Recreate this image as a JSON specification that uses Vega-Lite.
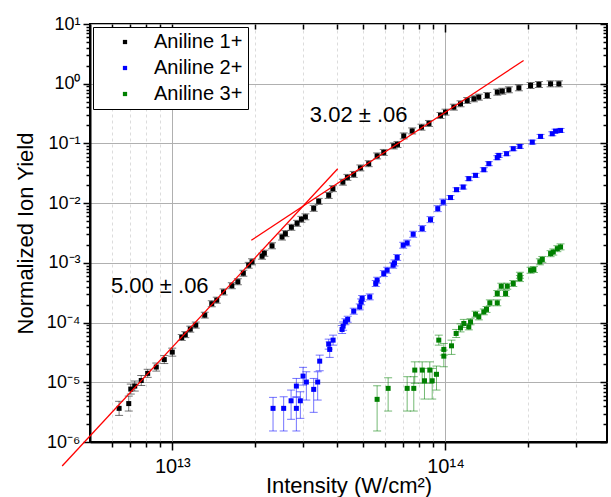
{
  "$schema": "https://vega.github.io/schema/vega-lite/v6.json",
  "width": 517,
  "height": 418,
  "autosize": {"type": "none"},
  "padding": {"left": 90, "top": 24, "right": 4, "bottom": 55},
  "config": {
    "font": "Liberation Sans",
    "view": {"stroke": "black", "strokeWidth": 2},
    "axis": {"labelColor": "black", "titleColor": "black", "labelFont": "Liberation Sans", "titleFont": "Liberation Sans"}
  },
  "datasets": {
    "pts": [
      {"s": "Aniline 1+", "x": 6.39e12, "y": 3.66e-6, "lo": 2.79e-6, "hi": 4.80e-6},
      {"s": "Aniline 1+", "x": 6.93e12, "y": 4.40e-6, "lo": 3.30e-6, "hi": 5.87e-6},
      {"s": "Aniline 1+", "x": 7.05e12, "y": 7.70e-6, "lo": 6.35e-6, "hi": 9.33e-6},
      {"s": "Aniline 1+", "x": 7.29e12, "y": 8.64e-6, "lo": 7.13e-6, "hi": 1.05e-5},
      {"s": "Aniline 1+", "x": 7.70e12, "y": 1.07e-5, "lo": 8.83e-6, "hi": 1.30e-5},
      {"s": "Aniline 1+", "x": 8.13e12, "y": 1.41e-5, "lo": 1.21e-5, "hi": 1.65e-5},
      {"s": "Aniline 1+", "x": 8.74e12, "y": 1.80e-5, "lo": 1.54e-5, "hi": 2.10e-5},
      {"s": "Aniline 1+", "x": 9.35e12, "y": 2.40e-5, "lo": 2.06e-5, "hi": 2.80e-5},
      {"s": "Aniline 1+", "x": 1.00e13, "y": 3.20e-5, "lo": 2.74e-5, "hi": 3.73e-5},
      {"s": "Aniline 1+", "x": 1.083e13, "y": 5.63e-5, "lo": 5.02e-5, "hi": 6.32e-5},
      {"s": "Aniline 1+", "x": 1.116e13, "y": 6.28e-5, "lo": 5.60e-5, "hi": 7.05e-5},
      {"s": "Aniline 1+", "x": 1.164e13, "y": 7.76e-5, "lo": 6.91e-5, "hi": 8.71e-5},
      {"s": "Aniline 1+", "x": 1.219e13, "y": 9.05e-5, "lo": 8.06e-5, "hi": 1.02e-4},
      {"s": "Aniline 1+", "x": 1.315e13, "y": 1.33e-4, "lo": 1.19e-4, "hi": 1.49e-4},
      {"s": "Aniline 1+", "x": 1.395e13, "y": 2.07e-4, "lo": 1.84e-4, "hi": 2.32e-4},
      {"s": "Aniline 1+", "x": 1.455e13, "y": 2.37e-4, "lo": 2.11e-4, "hi": 2.66e-4},
      {"s": "Aniline 1+", "x": 1.541e13, "y": 3.26e-4, "lo": 2.90e-4, "hi": 3.66e-4},
      {"s": "Aniline 1+", "x": 1.652e13, "y": 4.14e-4, "lo": 3.69e-4, "hi": 4.65e-4},
      {"s": "Aniline 1+", "x": 1.738e13, "y": 4.83e-4, "lo": 4.30e-4, "hi": 5.42e-4},
      {"s": "Aniline 1+", "x": 1.820e13, "y": 6.70e-4, "lo": 5.97e-4, "hi": 7.52e-4},
      {"s": "Aniline 1+", "x": 1.904e13, "y": 9.12e-4, "lo": 8.13e-4, "hi": 1.02e-3},
      {"s": "Aniline 1+", "x": 1.959e13, "y": 1.04e-3, "lo": 9.27e-4, "hi": 1.17e-3},
      {"s": "Aniline 1+", "x": 2.131e13, "y": 1.29e-3, "lo": 1.15e-3, "hi": 1.45e-3},
      {"s": "Aniline 1+", "x": 2.173e13, "y": 1.45e-3, "lo": 1.29e-3, "hi": 1.63e-3},
      {"s": "Aniline 1+", "x": 2.318e13, "y": 1.93e-3, "lo": 1.72e-3, "hi": 2.17e-3},
      {"s": "Aniline 1+", "x": 2.522e13, "y": 2.71e-3, "lo": 2.41e-3, "hi": 3.04e-3},
      {"s": "Aniline 1+", "x": 2.594e13, "y": 3.09e-3, "lo": 2.75e-3, "hi": 3.47e-3},
      {"s": "Aniline 1+", "x": 2.729e13, "y": 3.94e-3, "lo": 3.51e-3, "hi": 4.42e-3},
      {"s": "Aniline 1+", "x": 2.863e13, "y": 4.59e-3, "lo": 4.09e-3, "hi": 5.15e-3},
      {"s": "Aniline 1+", "x": 2.969e13, "y": 5.36e-3, "lo": 4.78e-3, "hi": 6.01e-3},
      {"s": "Aniline 1+", "x": 3.071e13, "y": 5.90e-3, "lo": 5.26e-3, "hi": 6.62e-3},
      {"s": "Aniline 1+", "x": 3.293e13, "y": 8.18e-3, "lo": 7.29e-3, "hi": 9.18e-3},
      {"s": "Aniline 1+", "x": 3.435e13, "y": 1.07e-2, "lo": 9.53e-3, "hi": 1.20e-2},
      {"s": "Aniline 1+", "x": 3.737e13, "y": 1.35e-2, "lo": 1.20e-2, "hi": 1.51e-2},
      {"s": "Aniline 1+", "x": 3.872e13, "y": 1.75e-2, "lo": 1.56e-2, "hi": 1.96e-2},
      {"s": "Aniline 1+", "x": 4.212e13, "y": 2.25e-2, "lo": 2.00e-2, "hi": 2.52e-2},
      {"s": "Aniline 1+", "x": 4.375e13, "y": 2.70e-2, "lo": 2.41e-2, "hi": 3.03e-2},
      {"s": "Aniline 1+", "x": 4.614e13, "y": 3.03e-2, "lo": 2.70e-2, "hi": 3.40e-2},
      {"s": "Aniline 1+", "x": 4.882e13, "y": 3.89e-2, "lo": 3.47e-2, "hi": 4.36e-2},
      {"s": "Aniline 1+", "x": 5.236e13, "y": 4.58e-2, "lo": 4.08e-2, "hi": 5.14e-2},
      {"s": "Aniline 1+", "x": 5.620e13, "y": 6.18e-2, "lo": 5.51e-2, "hi": 6.93e-2},
      {"s": "Aniline 1+", "x": 5.943e13, "y": 7.07e-2, "lo": 6.30e-2, "hi": 7.93e-2},
      {"s": "Aniline 1+", "x": 6.466e13, "y": 9.08e-2, "lo": 8.09e-2, "hi": 0.1019},
      {"s": "Aniline 1+", "x": 6.672e13, "y": 9.62e-2, "lo": 8.57e-2, "hi": 0.1079},
      {"s": "Aniline 1+", "x": 7.034e13, "y": 0.1335, "lo": 0.119, "hi": 0.1498},
      {"s": "Aniline 1+", "x": 7.551e13, "y": 0.162, "lo": 0.1443, "hi": 0.1818},
      {"s": "Aniline 1+", "x": 8.167e13, "y": 0.187, "lo": 0.1666, "hi": 0.2098},
      {"s": "Aniline 1+", "x": 8.70e13, "y": 0.216, "lo": 0.1925, "hi": 0.2424},
      {"s": "Aniline 1+", "x": 9.59e13, "y": 0.294, "lo": 0.262, "hi": 0.330},
      {"s": "Aniline 1+", "x": 1.00e14, "y": 0.334, "lo": 0.2976, "hi": 0.3747},
      {"s": "Aniline 1+", "x": 1.073e14, "y": 0.405, "lo": 0.361, "hi": 0.454},
      {"s": "Aniline 1+", "x": 1.135e14, "y": 0.461, "lo": 0.411, "hi": 0.517},
      {"s": "Aniline 1+", "x": 1.201e14, "y": 0.524, "lo": 0.467, "hi": 0.588},
      {"s": "Aniline 1+", "x": 1.270e14, "y": 0.559, "lo": 0.498, "hi": 0.627},
      {"s": "Aniline 1+", "x": 1.324e14, "y": 0.595, "lo": 0.530, "hi": 0.668},
      {"s": "Aniline 1+", "x": 1.422e14, "y": 0.635, "lo": 0.566, "hi": 0.712},
      {"s": "Aniline 1+", "x": 1.547e14, "y": 0.721, "lo": 0.642, "hi": 0.809},
      {"s": "Aniline 1+", "x": 1.614e14, "y": 0.749, "lo": 0.667, "hi": 0.840},
      {"s": "Aniline 1+", "x": 1.706e14, "y": 0.791, "lo": 0.705, "hi": 0.887},
      {"s": "Aniline 1+", "x": 1.856e14, "y": 0.854, "lo": 0.761, "hi": 0.958},
      {"s": "Aniline 1+", "x": 2.048e14, "y": 0.933, "lo": 0.831, "hi": 1.047},
      {"s": "Aniline 1+", "x": 2.197e14, "y": 0.970, "lo": 0.864, "hi": 1.088},
      {"s": "Aniline 1+", "x": 2.424e14, "y": 0.996, "lo": 0.887, "hi": 1.117},
      {"s": "Aniline 1+", "x": 2.600e14, "y": 0.996, "lo": 0.887, "hi": 1.117},
      {"s": "Aniline 2+", "x": 2.338e13, "y": 3.66e-6, "lo": 1.53e-6, "hi": 5.59e-6},
      {"s": "Aniline 2+", "x": 2.557e13, "y": 3.66e-6, "lo": 1.53e-6, "hi": 5.72e-6},
      {"s": "Aniline 2+", "x": 2.722e13, "y": 4.90e-6, "lo": 2.40e-6, "hi": 7.41e-6},
      {"s": "Aniline 2+", "x": 2.846e13, "y": 3.66e-6, "lo": 1.53e-6, "hi": 5.59e-6},
      {"s": "Aniline 2+", "x": 2.846e13, "y": 8.64e-6, "lo": 5.72e-6, "hi": 1.16e-5},
      {"s": "Aniline 2+", "x": 2.943e13, "y": 4.90e-6, "lo": 2.49e-6, "hi": 6.94e-6},
      {"s": "Aniline 2+", "x": 3.011e13, "y": 1.27e-5, "lo": 8.98e-6, "hi": 1.78e-5},
      {"s": "Aniline 2+", "x": 3.096e13, "y": 1.01e-5, "lo": 5.04e-6, "hi": 1.50e-5},
      {"s": "Aniline 2+", "x": 3.293e13, "y": 7.61e-6, "lo": 3.14e-6, "hi": 1.16e-5},
      {"s": "Aniline 2+", "x": 3.406e13, "y": 1.01e-5, "lo": 5.04e-6, "hi": 1.50e-5},
      {"s": "Aniline 2+", "x": 3.464e13, "y": 2.26e-5, "lo": 1.56e-5, "hi": 2.85e-5},
      {"s": "Aniline 2+", "x": 3.737e13, "y": 4.35e-5, "lo": 3.59e-5, "hi": 5.28e-5},
      {"s": "Aniline 2+", "x": 3.769e13, "y": 3.55e-5, "lo": 2.61e-5, "hi": 4.76e-5},
      {"s": "Aniline 2+", "x": 3.878e13, "y": 5.08e-5, "lo": 4.19e-5, "hi": 6.16e-5},
      {"s": "Aniline 2+", "x": 4.184e13, "y": 7.67e-5, "lo": 6.57e-5, "hi": 8.95e-5},
      {"s": "Aniline 2+", "x": 4.220e13, "y": 8.71e-5, "lo": 7.46e-5, "hi": 1.02e-4},
      {"s": "Aniline 2+", "x": 4.302e13, "y": 1.03e-4, "lo": 9.18e-5, "hi": 1.16e-4},
      {"s": "Aniline 2+", "x": 4.386e13, "y": 1.13e-4, "lo": 1.01e-4, "hi": 1.27e-4},
      {"s": "Aniline 2+", "x": 4.614e13, "y": 1.55e-4, "lo": 1.38e-4, "hi": 1.74e-4},
      {"s": "Aniline 2+", "x": 4.854e13, "y": 1.83e-4, "lo": 1.63e-4, "hi": 2.05e-4},
      {"s": "Aniline 2+", "x": 4.912e13, "y": 2.22e-4, "lo": 1.98e-4, "hi": 2.49e-4},
      {"s": "Aniline 2+", "x": 4.954e13, "y": 2.53e-4, "lo": 2.25e-4, "hi": 2.84e-4},
      {"s": "Aniline 2+", "x": 5.281e13, "y": 2.69e-4, "lo": 2.40e-4, "hi": 3.02e-4},
      {"s": "Aniline 2+", "x": 5.555e13, "y": 4.51e-4, "lo": 4.02e-4, "hi": 5.06e-4},
      {"s": "Aniline 2+", "x": 5.620e13, "y": 5.12e-4, "lo": 4.56e-4, "hi": 5.74e-4},
      {"s": "Aniline 2+", "x": 5.943e13, "y": 6.62e-4, "lo": 5.90e-4, "hi": 7.43e-4},
      {"s": "Aniline 2+", "x": 6.115e13, "y": 7.52e-4, "lo": 6.70e-4, "hi": 8.44e-4},
      {"s": "Aniline 2+", "x": 6.433e13, "y": 9.12e-4, "lo": 8.13e-4, "hi": 1.02e-3},
      {"s": "Aniline 2+", "x": 6.505e13, "y": 9.96e-4, "lo": 8.87e-4, "hi": 1.12e-3},
      {"s": "Aniline 2+", "x": 6.655e13, "y": 1.23e-3, "lo": 1.10e-3, "hi": 1.38e-3},
      {"s": "Aniline 2+", "x": 7.000e13, "y": 1.97e-3, "lo": 1.76e-3, "hi": 2.21e-3},
      {"s": "Aniline 2+", "x": 7.240e13, "y": 2.15e-3, "lo": 1.92e-3, "hi": 2.41e-3},
      {"s": "Aniline 2+", "x": 7.616e13, "y": 3.01e-3, "lo": 2.68e-3, "hi": 3.38e-3},
      {"s": "Aniline 2+", "x": 8.217e13, "y": 3.75e-3, "lo": 3.34e-3, "hi": 4.21e-3},
      {"s": "Aniline 2+", "x": 8.814e13, "y": 5.30e-3, "lo": 4.72e-3, "hi": 5.95e-3},
      {"s": "Aniline 2+", "x": 9.37e13, "y": 8.09e-3, "lo": 7.21e-3, "hi": 9.08e-3},
      {"s": "Aniline 2+", "x": 9.81e13, "y": 1.04e-2, "lo": 9.27e-3, "hi": 1.17e-2},
      {"s": "Aniline 2+", "x": 1.043e14, "y": 1.24e-2, "lo": 1.15e-2, "hi": 1.34e-2},
      {"s": "Aniline 2+", "x": 1.097e14, "y": 1.68e-2, "lo": 1.56e-2, "hi": 1.81e-2},
      {"s": "Aniline 2+", "x": 1.161e14, "y": 1.86e-2, "lo": 1.72e-2, "hi": 2.01e-2},
      {"s": "Aniline 2+", "x": 1.217e14, "y": 2.57e-2, "lo": 2.38e-2, "hi": 2.78e-2},
      {"s": "Aniline 2+", "x": 1.288e14, "y": 2.92e-2, "lo": 2.70e-2, "hi": 3.15e-2},
      {"s": "Aniline 2+", "x": 1.381e14, "y": 3.63e-2, "lo": 3.36e-2, "hi": 3.92e-2},
      {"s": "Aniline 2+", "x": 1.441e14, "y": 4.58e-2, "lo": 4.24e-2, "hi": 4.95e-2},
      {"s": "Aniline 2+", "x": 1.547e14, "y": 5.77e-2, "lo": 5.34e-2, "hi": 6.23e-2},
      {"s": "Aniline 2+", "x": 1.567e14, "y": 6.30e-2, "lo": 5.83e-2, "hi": 6.80e-2},
      {"s": "Aniline 2+", "x": 1.673e14, "y": 6.73e-2, "lo": 6.23e-2, "hi": 7.27e-2},
      {"s": "Aniline 2+", "x": 1.770e14, "y": 8.15e-2, "lo": 7.55e-2, "hi": 8.80e-2},
      {"s": "Aniline 2+", "x": 1.872e14, "y": 8.91e-2, "lo": 8.25e-2, "hi": 9.62e-2},
      {"s": "Aniline 2+", "x": 2.078e14, "y": 0.1051, "lo": 0.0973, "hi": 0.1135},
      {"s": "Aniline 2+", "x": 2.228e14, "y": 0.1310, "lo": 0.1213, "hi": 0.1415},
      {"s": "Aniline 2+", "x": 2.459e14, "y": 0.1453, "lo": 0.1345, "hi": 0.1569},
      {"s": "Aniline 2+", "x": 2.528e14, "y": 0.1606, "lo": 0.1487, "hi": 0.1734},
      {"s": "Aniline 2+", "x": 2.637e14, "y": 0.1650, "lo": 0.1528, "hi": 0.1782},
      {"s": "Aniline 3+", "x": 5.620e13, "y": 5.18e-6, "lo": 1.53e-6, "hi": 8.74e-6},
      {"s": "Aniline 3+", "x": 6.167e13, "y": 7.91e-6, "lo": 3.30e-6, "hi": 1.19e-5},
      {"s": "Aniline 3+", "x": 7.240e13, "y": 7.91e-6, "lo": 3.30e-6, "hi": 1.24e-5},
      {"s": "Aniline 3+", "x": 7.655e13, "y": 7.91e-6, "lo": 3.30e-6, "hi": 1.24e-5},
      {"s": "Aniline 3+", "x": 7.719e13, "y": 1.60e-5, "lo": 9.59e-6, "hi": 2.20e-5},
      {"s": "Aniline 3+", "x": 8.217e13, "y": 1.60e-5, "lo": 9.59e-6, "hi": 2.20e-5},
      {"s": "Aniline 3+", "x": 8.377e13, "y": 1.06e-5, "lo": 5.24e-6, "hi": 1.71e-5},
      {"s": "Aniline 3+", "x": 8.761e13, "y": 1.60e-5, "lo": 9.59e-6, "hi": 2.20e-5},
      {"s": "Aniline 3+", "x": 8.94e13, "y": 1.06e-5, "lo": 5.24e-6, "hi": 1.71e-5},
      {"s": "Aniline 3+", "x": 9.27e13, "y": 1.36e-5, "lo": 7.41e-6, "hi": 1.87e-5},
      {"s": "Aniline 3+", "x": 9.45e13, "y": 5.08e-5, "lo": 4.19e-5, "hi": 6.16e-5},
      {"s": "Aniline 3+", "x": 9.86e13, "y": 3.55e-5, "lo": 2.85e-5, "hi": 4.47e-5},
      {"s": "Aniline 3+", "x": 9.86e13, "y": 2.74e-5, "lo": 1.82e-5, "hi": 3.46e-5},
      {"s": "Aniline 3+", "x": 1.052e14, "y": 4.08e-5, "lo": 2.93e-5, "hi": 5.08e-5},
      {"s": "Aniline 3+", "x": 1.094e14, "y": 6.57e-5, "lo": 5.63e-5, "hi": 7.67e-5},
      {"s": "Aniline 3+", "x": 1.135e14, "y": 8.15e-5, "lo": 6.98e-5, "hi": 9.50e-5},
      {"s": "Aniline 3+", "x": 1.167e14, "y": 9.66e-5, "lo": 8.28e-5, "hi": 1.13e-4},
      {"s": "Aniline 3+", "x": 1.217e14, "y": 8.47e-5, "lo": 7.55e-5, "hi": 9.50e-5},
      {"s": "Aniline 3+", "x": 1.235e14, "y": 1.03e-4, "lo": 9.18e-5, "hi": 1.16e-4},
      {"s": "Aniline 3+", "x": 1.288e14, "y": 1.38e-4, "lo": 1.23e-4, "hi": 1.55e-4},
      {"s": "Aniline 3+", "x": 1.324e14, "y": 1.25e-4, "lo": 1.11e-4, "hi": 1.40e-4},
      {"s": "Aniline 3+", "x": 1.381e14, "y": 1.51e-4, "lo": 1.35e-4, "hi": 1.69e-4},
      {"s": "Aniline 3+", "x": 1.413e14, "y": 1.66e-4, "lo": 1.48e-4, "hi": 1.86e-4},
      {"s": "Aniline 3+", "x": 1.453e14, "y": 2.14e-4, "lo": 1.91e-4, "hi": 2.40e-4},
      {"s": "Aniline 3+", "x": 1.547e14, "y": 2.14e-4, "lo": 1.91e-4, "hi": 2.40e-4},
      {"s": "Aniline 3+", "x": 1.547e14, "y": 3.07e-4, "lo": 2.74e-4, "hi": 3.44e-4},
      {"s": "Aniline 3+", "x": 1.600e14, "y": 4.06e-4, "lo": 3.62e-4, "hi": 4.56e-4},
      {"s": "Aniline 3+", "x": 1.659e14, "y": 3.07e-4, "lo": 2.74e-4, "hi": 3.44e-4},
      {"s": "Aniline 3+", "x": 1.683e14, "y": 4.06e-4, "lo": 3.62e-4, "hi": 4.56e-4},
      {"s": "Aniline 3+", "x": 1.770e14, "y": 4.51e-4, "lo": 4.02e-4, "hi": 5.06e-4},
      {"s": "Aniline 3+", "x": 1.872e14, "y": 5.46e-4, "lo": 4.86e-4, "hi": 6.13e-4},
      {"s": "Aniline 3+", "x": 1.872e14, "y": 6.20e-4, "lo": 5.52e-4, "hi": 6.96e-4},
      {"s": "Aniline 3+", "x": 2.048e14, "y": 7.52e-4, "lo": 6.70e-4, "hi": 8.44e-4},
      {"s": "Aniline 3+", "x": 2.106e14, "y": 7.73e-4, "lo": 6.89e-4, "hi": 8.67e-4},
      {"s": "Aniline 3+", "x": 2.215e14, "y": 1.04e-3, "lo": 9.27e-4, "hi": 1.17e-3},
      {"s": "Aniline 3+", "x": 2.261e14, "y": 1.14e-3, "lo": 1.02e-3, "hi": 1.28e-3},
      {"s": "Aniline 3+", "x": 2.424e14, "y": 1.43e-3, "lo": 1.27e-3, "hi": 1.60e-3},
      {"s": "Aniline 3+", "x": 2.480e14, "y": 1.52e-3, "lo": 1.35e-3, "hi": 1.71e-3},
      {"s": "Aniline 3+", "x": 2.566e14, "y": 1.73e-3, "lo": 1.54e-3, "hi": 1.94e-3},
      {"s": "Aniline 3+", "x": 2.637e14, "y": 1.85e-3, "lo": 1.65e-3, "hi": 2.08e-3}
    ],
    "fit": [
      {"id": "slope5", "x": 3.955e12, "y": 3.97e-7},
      {"id": "slope5", "x": 4.032e13, "y": 3.776e-2},
      {"id": "slope3", "x": 1.947e13, "y": 2.387e-3},
      {"id": "slope3", "x": 1.931e14, "y": 2.443}
    ],
    "notes": [
      {"t": "5.00 ± .06", "x": 9.0e12, "y": 3.07e-4},
      {"t": "3.02 ± .06", "x": 4.81e13, "y": 0.227}
    ]
  },
  "layer": [
    {
      "data": {"name": "pts"},
      "mark": {"type": "rule", "strokeWidth": 1, "opacity": 0.55},
      "encoding": {
        "x": {
          "field": "x", "type": "quantitative",
          "scale": {"type": "log", "domain": [5e12, 3.9e14]},
          "axis": {
            "orient": "bottom",
            "values": [6e12, 7e12, 8e12, 9e12, 1e13, 2e13, 3e13, 4e13, 5e13, 6e13, 7e13, 8e13, 9e13, 1e14, 2e14, 3e14],
            "labelExpr": "datum.value == 1e13 ? '10¹³' : (datum.value == 1e14 ? '10¹⁴' : '')",
            "labelFontSize": 20,
            "labelBaseline": "alphabetic",
            "labelPadding": 22,
            "labelOverlap": false,
            "labelFlush": false,
            "tickSize": {"condition": {"test": "datum.value == 1e13 || datum.value == 1e14", "value": 8}, "value": 5},
            "tickColor": "black",
            "tickWidth": 1.5,
            "grid": true,
            "gridColor": {"condition": {"test": "datum.value == 1e13 || datum.value == 1e14", "value": "#b0b0b0"}, "value": "#dcdcdc"},
            "gridDash": {"condition": {"test": "datum.value == 1e13 || datum.value == 1e14", "value": []}, "value": [3, 3]},
            "gridWidth": 1,
            "domainColor": "black",
            "domainWidth": 2,
            "title": "Intensity (W/cm²)",
            "titleFontSize": 22,
            "titleFontWeight": "normal",
            "titleBaseline": "alphabetic",
            "titleY": 50
          }
        },
        "y": {
          "field": "lo", "type": "quantitative",
          "scale": {"type": "log", "domain": [1e-6, 10]},
          "axis": {
            "orient": "left",
            "values": [1e-6, 2e-6, 3e-6, 4e-6, 5e-6, 6e-6, 7e-6, 8e-6, 9e-6, 1e-5, 2e-5, 3e-5, 4e-5, 5e-5, 6e-5, 7e-5, 8e-5, 9e-5, 1e-4, 2e-4, 3e-4, 4e-4, 5e-4, 6e-4, 7e-4, 8e-4, 9e-4, 1e-3, 2e-3, 3e-3, 4e-3, 5e-3, 6e-3, 7e-3, 8e-3, 9e-3, 1e-2, 2e-2, 3e-2, 4e-2, 5e-2, 6e-2, 7e-2, 8e-2, 9e-2, 0.1, 0.2, 0.3, 0.4, 0.5, 0.6, 0.7, 0.8, 0.9, 1, 2, 3, 4, 5, 6, 7, 8, 9, 10],
            "labelExpr": "abs(log(datum.value)/LN10 - round(log(datum.value)/LN10)) > 0.01 ? '' : ['10⁻⁶','10⁻⁵','10⁻⁴','10⁻³','10⁻²','10⁻¹','10⁰','10¹'][round(log(datum.value)/LN10) + 6]",
            "labelFontSize": 18,
            "labelOverlap": false,
            "labelFlush": false,
            "labelPadding": 3,
            "tickSize": {"condition": {"test": "abs(log(datum.value)/LN10 - round(log(datum.value)/LN10)) < 0.01", "value": 7}, "value": 4},
            "tickColor": "black",
            "tickWidth": 1.5,
            "grid": true,
            "gridColor": "#b0b0b0",
            "gridOpacity": {"condition": {"test": "abs(log(datum.value)/LN10 - round(log(datum.value)/LN10)) < 0.01", "value": 1}, "value": 0},
            "domainColor": "black",
            "domainWidth": 2,
            "title": "Normalized Ion Yield",
            "titleFontSize": 22,
            "titleFontWeight": "normal",
            "titleBaseline": "alphabetic",
            "titleAngle": -90,
            "titleX": -58,
            "titleY": 209
          }
        },
        "y2": {"field": "hi"},
        "color": {
          "field": "s", "type": "nominal",
          "scale": {"domain": ["Aniline 1+", "Aniline 2+", "Aniline 3+"], "range": ["#000000", "#0000ff", "#008000"]},
          "legend": null
        }
      }
    },
    {
      "data": {"name": "pts"},
      "mark": {"type": "tick", "orient": "horizontal", "size": 8, "thickness": 1, "opacity": 0.55},
      "encoding": {
        "x": {"field": "x", "type": "quantitative", "scale": {"type": "log", "domain": [5e12, 3.9e14]}, "axis": null},
        "y": {"field": "lo", "type": "quantitative", "scale": {"type": "log", "domain": [1e-6, 10]}, "axis": null},
        "color": {"field": "s", "type": "nominal", "legend": null}
      }
    },
    {
      "data": {"name": "pts"},
      "mark": {"type": "tick", "orient": "horizontal", "size": 8, "thickness": 1, "opacity": 0.55},
      "encoding": {
        "x": {"field": "x", "type": "quantitative", "scale": {"type": "log", "domain": [5e12, 3.9e14]}, "axis": null},
        "y": {"field": "hi", "type": "quantitative", "scale": {"type": "log", "domain": [1e-6, 10]}, "axis": null},
        "color": {"field": "s", "type": "nominal", "legend": null}
      }
    },
    {
      "data": {"name": "pts"},
      "mark": {"type": "point", "shape": "square", "filled": true, "size": 25, "opacity": 1},
      "encoding": {
        "x": {"field": "x", "type": "quantitative", "scale": {"type": "log", "domain": [5e12, 3.9e14]}, "axis": null},
        "y": {"field": "y", "type": "quantitative", "scale": {"type": "log", "domain": [1e-6, 10]}, "axis": null},
        "color": {
          "field": "s", "type": "nominal",
          "legend": {
            "title": null,
            "orient": "none",
            "legendX": 3,
            "legendY": 3,
            "strokeColor": "black",
            "fillColor": "white",
            "padding": 5,
            "symbolType": "square",
            "symbolSize": 18,
            "symbolStrokeWidth": 0,
            "symbolOffset": 17,
            "labelOffset": 19,
            "labelFontSize": 20,
            "labelFont": "Liberation Sans",
            "labelColor": "black",
            "rowPadding": 6
          }
        }
      }
    },
    {
      "data": {"name": "fit"},
      "mark": {"type": "line", "color": "#ff0000", "strokeWidth": 1.3},
      "encoding": {
        "x": {
          "field": "x", "type": "quantitative",
          "scale": {"type": "log", "domain": [5e12, 3.9e14]},
          "axis": {
            "orient": "top",
            "values": [6e12, 7e12, 8e12, 9e12, 1e13, 2e13, 3e13, 4e13, 5e13, 6e13, 7e13, 8e13, 9e13, 1e14, 2e14, 3e14],
            "labels": false,
            "title": null,
            "domain": false,
            "grid": false,
            "tickColor": "black",
            "tickWidth": 1.5,
            "tickSize": {"condition": {"test": "datum.value == 1e13 || datum.value == 1e14", "value": -8}, "value": -5}
          }
        },
        "y": {
          "field": "y", "type": "quantitative",
          "scale": {"type": "log", "domain": [1e-6, 10]},
          "axis": {
            "orient": "right",
            "values": [1e-6, 2e-6, 3e-6, 4e-6, 5e-6, 6e-6, 7e-6, 8e-6, 9e-6, 1e-5, 2e-5, 3e-5, 4e-5, 5e-5, 6e-5, 7e-5, 8e-5, 9e-5, 1e-4, 2e-4, 3e-4, 4e-4, 5e-4, 6e-4, 7e-4, 8e-4, 9e-4, 1e-3, 2e-3, 3e-3, 4e-3, 5e-3, 6e-3, 7e-3, 8e-3, 9e-3, 1e-2, 2e-2, 3e-2, 4e-2, 5e-2, 6e-2, 7e-2, 8e-2, 9e-2, 0.1, 0.2, 0.3, 0.4, 0.5, 0.6, 0.7, 0.8, 0.9, 1, 2, 3, 4, 5, 6, 7, 8, 9, 10],
            "labels": false,
            "title": null,
            "domain": false,
            "grid": false,
            "tickColor": "black",
            "tickWidth": 1.5,
            "tickSize": {"condition": {"test": "abs(log(datum.value)/LN10 - round(log(datum.value)/LN10)) < 0.01", "value": -7}, "value": -4}
          }
        },
        "detail": {"field": "id", "type": "nominal"}
      }
    },
    {
      "data": {"name": "notes"},
      "mark": {"type": "text", "fontSize": 22, "font": "Liberation Sans", "color": "black", "align": "center", "baseline": "alphabetic"},
      "encoding": {
        "x": {"field": "x", "type": "quantitative", "scale": {"type": "log", "domain": [5e12, 3.9e14]}, "axis": null},
        "y": {"field": "y", "type": "quantitative", "scale": {"type": "log", "domain": [1e-6, 10]}, "axis": null},
        "text": {"field": "t"}
      }
    }
  ],
  "resolve": {"axis": {"x": "independent", "y": "independent"}, "legend": {"color": "independent"}}
}
